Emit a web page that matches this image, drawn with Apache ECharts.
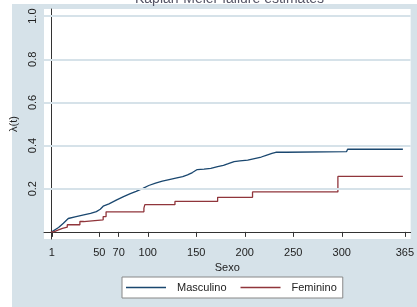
<!DOCTYPE html>
<html>
<head>
<meta charset="utf-8">
<script src="https://cdn.jsdelivr.net/npm/echarts@6/dist/echarts.min.js"></script>
<style>
  html, body { margin: 0; padding: 0; background: #fff; }
  #main { width: 417px; height: 307px; }
</style>
</head>
<body>
<div id="main"></div>
<script>
// Kaplan-Meier failure estimates, by sex
const xTicks = [1, 50, 70, 100, 150, 200, 250, 300, 365]
const yTicks = [0.2, 0.4, 0.6, 0.8, 1.0]

const maleT = [1, 3, 8, 13, 18, 25, 34, 41, 47, 51, 54, 60, 68, 75, 82, 88, 95, 101, 108, 115, 122, 130, 136, 141, 146, 151, 158, 165, 172, 178, 183, 189, 195, 203, 210, 217, 222, 228, 232, 243, 244, 305, 306, 363]
const maleY = [0, 0.007, 0.02, 0.04, 0.062, 0.07, 0.079, 0.086, 0.094, 0.105, 0.119, 0.13, 0.148, 0.163, 0.177, 0.188, 0.202, 0.215, 0.226, 0.235, 0.242, 0.25, 0.256, 0.264, 0.275, 0.289, 0.291, 0.294, 0.302, 0.308, 0.316, 0.326, 0.329, 0.333, 0.34, 0.347, 0.355, 0.364, 0.369, 0.369, 0.372, 0.372, 0.383, 0.383]

const femaleT = [0, 3, 8, 12, 17, 30, 34, 54, 57, 96, 97, 128, 172, 208, 296, 363]
const femaleY = [0, 0.009, 0.016, 0.022, 0.033, 0.048, 0.056, 0.071, 0.093, 0.11, 0.126, 0.141, 0.16, 0.185, 0.257, 0.257]

const pair = (t, y) => t.map((v, i) => [v, y[i]])

const myChart = echarts.init(document.getElementById('main'))
const axisColor = '#333'
const bgColor = '#d6e2e9'
const option = {
  animation: false,
  textStyle: { fontFamily: 'Liberation Sans, Arial, sans-serif' },
  graphic: [
    { type: 'rect', z: -20, silent: true, left: 12, top: 4, shape: { width: 405, height: 303 }, style: { fill: bgColor } }
  ],
  title: {
    text: 'Kaplan-Meier failure estimates',
    left: 130, top: -13,
    textStyle: { fontSize: 14, fontWeight: 'normal', color: '#556' }
  },
  grid: { left: 44, top: 9, right: 2, bottom: 68, show: true, backgroundColor: '#fff', borderWidth: 0 },
  xAxis: {
    type: 'value', min: -7, max: 371,
    name: 'Sexo', nameLocation: 'middle', nameGap: 21,
    nameTextStyle: { fontSize: 11, color: '#222' },
    axisLine: { lineStyle: { color: axisColor } },
    axisTick: { customValues: xTicks, length: 5, lineStyle: { color: axisColor } },
    axisLabel: { customValues: xTicks, fontSize: 11, color: '#222', margin: 8 },
    splitLine: { show: false }
  },
  yAxis: {
    type: 'value', min: -0.033, max: 1.033,
    name: 'λ(t)', nameLocation: 'middle', nameGap: 14,
    nameTextStyle: { fontSize: 11, color: '#222' },
    axisLine: { show: true, lineStyle: { color: axisColor } },
    axisTick: { show: true, customValues: yTicks, length: 4, lineStyle: { color: axisColor } },
    axisLabel: { customValues: yTicks, rotate: 90, fontSize: 11, color: '#222', margin: 6, formatter: v => v.toFixed(1) },
    splitLine: { show: false }
  },
  legend: {
    left: 122, top: 277,
    backgroundColor: '#fff', borderColor: '#888', borderWidth: 1, borderRadius: 0,
    padding: [5, 6, 5, 4],
    itemWidth: 40, itemHeight: 1.5, itemGap: 14, icon: 'rect',
    textStyle: { fontSize: 11, color: '#222', padding: [0, 0, 0, 6] },
    data: ['Masculino', 'Feminino']
  },
  series: [
    {
      name: 'Masculino', type: 'line', showSymbol: false, symbol: 'none',
      itemStyle: { color: '#1a476f' }, lineStyle: { color: '#1a476f', width: 1.3 },
      data: pair(maleT, maleY),
      markLine: {
        silent: true, symbol: 'none', label: { show: false }, animation: false,
        lineStyle: { color: bgColor, type: 'solid', width: 2 },
        data: yTicks.map(v => ({ yAxis: v }))
      }
    },
    {
      name: 'Feminino', type: 'line', step: 'end', showSymbol: false, symbol: 'none',
      itemStyle: { color: '#90353b' }, lineStyle: { color: '#90353b', width: 1.3 },
      data: pair(femaleT, femaleY)
    }
  ]
}
option && myChart.setOption(option)
</script>
</body>
</html>
